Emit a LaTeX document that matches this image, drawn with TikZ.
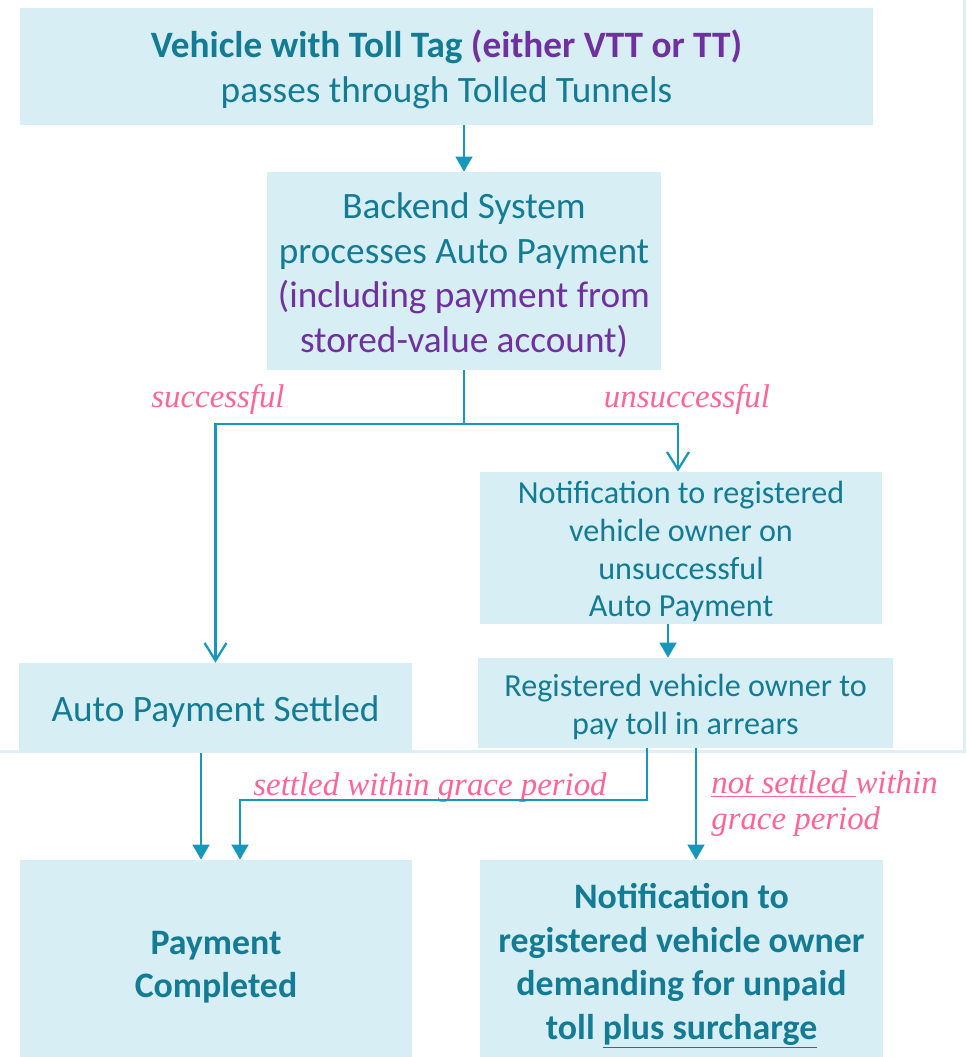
\documentclass[tikz,border=0pt]{standalone}
\usepackage{fontspec}
\setmainfont{Carlito}
\newfontfamily\notefont{Liberation Serif}
\usetikzlibrary{arrows.meta}

\definecolor{boxfill}{RGB}{214,238,244}
\definecolor{boxtext}{RGB}{19,124,148}
\definecolor{tollpurple}{RGB}{112,48,160}
\definecolor{notepink}{RGB}{255,102,150}
\definecolor{flowline}{RGB}{23,152,186}
\definecolor{framefill}{RGB}{221,240,244}

% extra room above the first line of a box
\newcommand{\padtop}[1]{\raisebox{#1}{\vphantom{(}}}

\begin{document}
\begin{tikzpicture}[x=0.02cm,y=-0.02cm]

    \tikzset{
      box/.style={
        fill=boxfill,
        text=boxtext,
        align=center,
        inner sep=0pt,
      },
      bigtext/.style={font=\fontsize{21.2}{25.5}\selectfont},
      midtext/.style={font=\fontsize{18.3}{21.5}\selectfont},
      boldtext/.style={font=\fontsize{20.4}{24.7}\selectfont\bfseries},
      note/.style={
        text=notepink,
        inner sep=0pt,
        font=\fontsize{18.7}{20.5}\selectfont\notefont\itshape,
      },
      flow/.style={flowline, line width=1.3pt},
      tri/.style={flow, -{Triangle[length=8.5pt,width=9.5pt]}},
      barb/.style={flow, -{Straight Barb[length=10pt,width=12.5pt]}},
    }
    \useasboundingbox (0,0) rectangle (966,1057);
    \draw[framefill, line width=1.7pt] (0,751) -- (964,751) -- (964,0);

    % boxes
    \node[box, bigtext, minimum width=17.06cm, minimum height=2.34cm] (tag) at (446.5,66.5)
      {\padtop{3.4pt}{\bfseries Vehicle with Toll Tag \textcolor{tollpurple}{(either VTT or TT)}}\\passes through Tolled Tunnels};
    \node[box, bigtext, minimum width=7.88cm, minimum height=3.96cm] (backend) at (464,271)
      {\padtop{4pt}Backend System\\processes Auto Payment\\\textcolor{tollpurple}{(including payment from}\\\textcolor{tollpurple}{stored-value account)}};
    \node[box, midtext, minimum width=8.04cm, minimum height=3.04cm] (notify) at (681,548)
      {\padtop{3.4pt}Notification to registered\\vehicle owner on\\unsuccessful\\Auto Payment};
    \node[box, bigtext, minimum width=7.86cm, minimum height=1.8cm] (settled) at (215.5,708)
      {\padtop{3.4pt}Auto Payment Settled};
    \node[box, midtext, minimum width=8.3cm, minimum height=1.8cm] (arrears) at (685.5,703)
      {\padtop{3.4pt}Registered vehicle owner to\\pay toll in arrears};
    \node[box, boldtext, minimum width=7.84cm, minimum height=3.94cm] (done) at (216,958.5)
      {\padtop{8pt}Payment\\Completed};
    \node[box, boldtext, minimum width=8.06cm, minimum height=3.94cm] (demand) at (681.5,958.5)
      {\padtop{8pt}Notification to\\registered vehicle owner\\demanding for unpaid\\toll \underline{plus surcharge}};

    % labels
    \node[note, anchor=base] (ok) at (218,407) {successful};
    \node[note, anchor=base] (fail) at (687,407) {unsuccessful};
    \node[note, anchor=base] (grace) at (430,795) {settled within grace period};
    \node[note, anchor=north west, align=left] (late) at (711,770)
      {\underline{not settled\ }within\\grace period};

    % connectors
    \coordinate (split) at (464,424);
    \coordinate (nA) at ([xshift=-0.26cm]notify.south);
    \coordinate (sA) at ([xshift=-0.29cm]settled.south);
    \coordinate (aA) at ([xshift=-0.77cm]arrears.south);
    \coordinate (aB) at ([xshift=0.21cm]arrears.south);
    \coordinate (dA) at ([xshift=0.48cm]done.north);

    \draw[tri] (tag.south -| backend.north) -- (backend.north);
    \draw[flow] (backend.south) -- (split);
    \draw[barb] (split) -| (settled.north);
    \draw[barb] (split) -| ([xshift=-0.06cm]notify.north);
    \draw[tri] (nA) -- (nA |- arrears.north);
    \draw[tri] (sA) -- (sA |- done.north);
    \draw[tri] (aA) -- (aA |- 0,800) -| (dA);
    \draw[tri] (aB) -- (aB |- demand.north);

\end{tikzpicture}
\end{document}
